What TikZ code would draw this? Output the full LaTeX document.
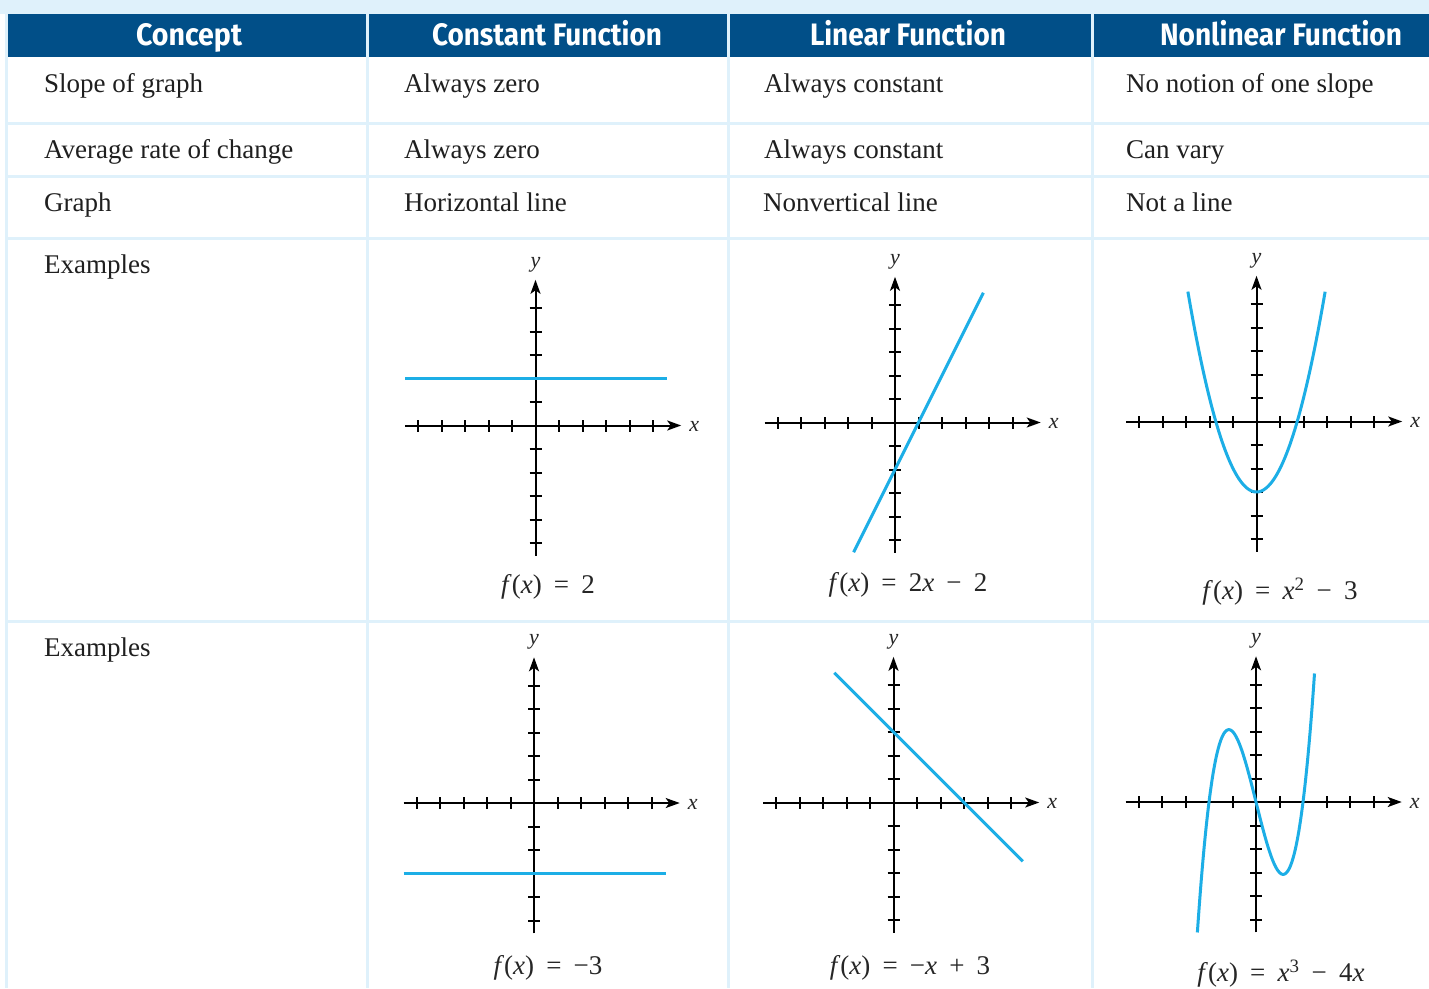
\documentclass[tikz,border=0pt]{standalone}
\usepackage{fontspec}
\setmainfont{Liberation Serif}
\newfontfamily\hdrfont{Fira Sans}
\usetikzlibrary{arrows.meta}
\definecolor{hdrblue}{HTML}{014F88}
\definecolor{rulecol}{HTML}{DFF1FB}
\definecolor{curveblue}{HTML}{1CAEE6}
\newcommand\gapp{\hspace{0.45em}}
\newcommand\fx{\textit{f}(\textit{x})}
\tikzset{
  hdr/.style={text=white, font=\hdrfont\bfseries\fontsize{31}{34}\selectfont, anchor=base, inner sep=0pt},
  cell/.style={anchor=base west, font=\fontsize{27}{30}\selectfont, inner sep=0pt, text=black!88},
  axisline/.style={line width=2pt, -{Stealth[length=14pt,width=10pt,inset=3.5pt]}},
  tickline/.style={line width=2pt},
  curve/.style={line width=3pt, curveblue},
  axlabel/.style={font=\itshape\fontsize{22}{24}\selectfont, inner sep=0pt, text=black!85},
  fnlabel/.style={font=\fontsize{27}{30}\selectfont, inner sep=0pt, text=black!85},
  rulefill/.style={fill=rulecol, draw=none},
}
\newcommand\graphaxes[1]{%
  \draw[axisline] (-5.55,0) -- (6.2,0);
  \draw[axisline] (0,-5.55) -- (0,6.2);
  \foreach \i in {-5,-4,-3,-2,-1,1,2,3,4,5}{
    \draw[tickline] ([yshift=-6pt]\i,0) -- ([yshift=6pt]\i,0);
    \draw[tickline] ([xshift=-6pt]0,\i) -- ([xshift=6pt]0,\i);
  }
  \node[axlabel] (#1y) at (0,6.85) {y};
  \node[axlabel] (#1x) at (6.75,-0.05) {x};
}
\begin{document}
\begin{tikzpicture}[x=1pt,y=-1pt]
\useasboundingbox (0,0) rectangle (1429,988);
% background
\fill[white] (0,0) rectangle (1429,988);
\fill[rulefill] (0,0) rectangle (1429,14);
\fill[rulefill] (5,14) rectangle (8,988);
% header
\fill[hdrblue] (8,14) rectangle (1429,57);
% row rules
\foreach \ya/\yb in {122/125,175/178,237/240,620/623}{
  \fill[rulefill] (8,\ya) rectangle (1429,\yb);
}
% column rules
\foreach \xa/\xb in {366/369,727/730,1091/1094}{
  \fill[rulefill] (\xa,14) rectangle (\xb,988);
}
% header texts
\node[hdr] (h1) at (189,45) {\resizebox{106pt}{\height}{Concept}};
\node[hdr] (h2) at (547,45) {\resizebox{230pt}{\height}{Constant Function}};
\node[hdr] (h3) at (908,45) {\resizebox{196pt}{\height}{Linear Function}};
\node[hdr] (h4) at (1281,45) {\resizebox{242pt}{\height}{Nonlinear Function}};
% row 1
\node[cell] (r1c1) at (44,92) {Slope of graph};
\node[cell] (r1c2) at (404,92) {Always zero};
\node[cell] (r1c3) at (764,92) {Always constant};
\node[cell] (r1c4) at (1126,92) {No notion of one slope};
% row 2
\node[cell] (r2c1) at (44,158) {Average rate of change};
\node[cell] (r2c2) at (404,158) {Always zero};
\node[cell] (r2c3) at (764,158) {Always constant};
\node[cell] (r2c4) at (1126,158) {Can vary};
% row 3
\node[cell] (r3c1) at (44,211) {Graph};
\node[cell] (r3c2) at (404,211) {Horizontal line};
\node[cell] (r3c3) at (763,211) {Nonvertical line};
\node[cell] (r3c4) at (1126,211) {Not a line};
% rows 4,5
\node[cell] (r4c1) at (44,273) {Examples};
\node[cell] (r5c1) at (44,656) {Examples};
% graph 1: f(x)=2
\begin{scope}[shift={(535.5,425.5)}, x=23.5pt, y=23.5pt]
  \graphaxes{ga}
  \draw[curve] (-5.55,2) -- (5.6,2);
\end{scope}
\node[fnlabel] (fa) at (548,587) {\fx\gapp=\gapp2};
% graph 2: f(x)=2x-2
\begin{scope}[shift={(895,422.5)}, x=23.5pt, y=23.5pt]
  \graphaxes{gb}
  \draw[curve] (-1.76,-5.52) -- (3.76,5.52);
\end{scope}
\node[fnlabel] (fb) at (908,585) {\fx\gapp=\gapp2\textit{x}\gapp−\gapp2};
% graph 3: f(x)=x^2-3
\begin{scope}[shift={(1256.5,421.5)}, x=23.5pt, y=23.5pt]
  \graphaxes{gc}
  \draw[curve] plot[domain=-2.92:2.92, samples=90, smooth] (\x,{\x*\x-3});
\end{scope}
\node[fnlabel] (fc) at (1280,592) {\fx\gapp=\gapp\textit{x}\textsuperscript{2}\gapp−\gapp3};
% graph 4: f(x)=-3
\begin{scope}[shift={(534,803)}, x=23.5pt, y=23.5pt]
  \graphaxes{gd}
  \draw[curve] (-5.55,-3) -- (5.6,-3);
\end{scope}
\node[fnlabel] (fd) at (548,968) {\fx\gapp=\gapp−3};
% graph 5: f(x)=-x+3
\begin{scope}[shift={(893.5,802.5)}, x=23.5pt, y=23.5pt]
  \graphaxes{ge}
  \draw[curve] (-2.52,5.52) -- (5.5,-2.5);
\end{scope}
\node[fnlabel] (fe) at (910,968) {\fx\gapp=\gapp−\textit{x}\gapp+\gapp3};
% graph 6: f(x)=x^3-4x
\begin{scope}[shift={(1256,802)}, x=23.5pt, y=23.5pt]
  \graphaxes{gf}
  \draw[curve] plot[domain=-2.495:2.49, samples=120, smooth] (\x,{\x*\x*\x-4*\x});
\end{scope}
\node[fnlabel] (ff) at (1281,974) {\fx\gapp=\gapp\textit{x}\textsuperscript{3}\gapp−\gapp4\textit{x}};
\end{tikzpicture}
\end{document}
